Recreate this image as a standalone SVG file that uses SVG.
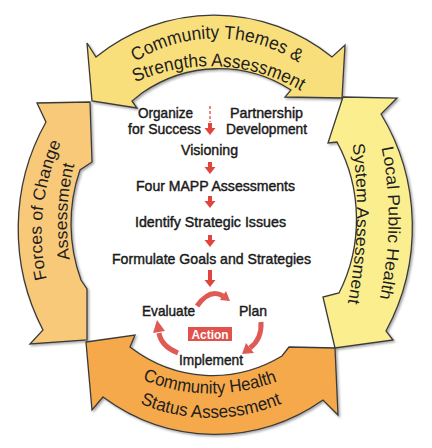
<svg xmlns="http://www.w3.org/2000/svg" width="432" height="448" viewBox="0 0 432 448">
<defs>
<filter id="sh" x="-15%" y="-15%" width="130%" height="130%">
<feDropShadow dx="1.5" dy="1.5" stdDeviation="1.2" flood-color="#000" flood-opacity="0.35"/>
</filter>
<path id="tp1" d="M 132,64 A 151 151 0 0 1 302,65"/>
<path id="tp2" d="M 130,85 A 180 180 0 0 1 306,94"/>
<path id="lp1" d="M 48,284 Q 30,212 63,138"/>
<path id="lp2" d="M 71,266 Q 61,212 76,158"/>
<path id="rp1" d="M 380,140 Q 398,222 378,306"/>
<path id="rp2" d="M 351,135 Q 365,222 346,312"/>
<path id="bp1" d="M 136,377 Q 208,409 284,379"/>
<path id="bp2" d="M 134,401 Q 210,435 288,401"/>
<path id="da" d="M -2,0 h4 v5 h3.5 l-5.5,7 l-5.5,-7 h3.5 z"/>
<path id="dal" d="M -2,0 h4 v10 h3.5 l-5.5,7 l-5.5,-7 h3.5 z"/>
</defs>
<style>
.band{stroke:#3a3a3a;stroke-width:1.3;stroke-linejoin:miter;filter:url(#sh)}
.bt{font-family:"Liberation Sans Narrow","Liberation Sans",Arial,sans-serif;fill:#1e1e1e}
.ct{font-family:"Liberation Sans",Arial,sans-serif;font-size:15px;fill:#1a1a1a;stroke:#1a1a1a;stroke-width:0.45}
.red{fill:#E0463E}
.cyc{fill:none;stroke:#E05A55;stroke-width:5}
.cyh{fill:#E05A55}
</style>
<rect width="432" height="448" fill="#fff"/>

<g id="community-themes">
<path class="band" fill="#F9DE7B" d="M 87,43 L 96,57 A 196 208 0 0 1 332,57 L 345,45 L 342,98 L 285,97 L 291,90 A 142 153 0 0 0 142,93 L 132,101 L 137,108 L 92,101 Z"/>
<text class="bt" font-size="18.5"><textPath href="#tp1" startOffset="50%" text-anchor="middle" textLength="172" lengthAdjust="spacingAndGlyphs">Community Themes &amp;</textPath></text>
<text class="bt" font-size="18.5"><textPath href="#tp2" startOffset="50%" text-anchor="middle" textLength="172" lengthAdjust="spacingAndGlyphs">Strengths Assessment</textPath></text>
</g>

<g id="forces-of-change">
<path class="band" fill="#F9C97A" d="M 37,103 L 90,102 L 92,162 L 80,170 A 142 153 0 0 0 81,280 L 87,289 L 87,340 L 30,344 L 43,330 A 196 208 0 0 1 46,122 Z"/>
<text class="bt" font-size="17"><textPath href="#lp1" startOffset="50%" text-anchor="middle" textLength="140" lengthAdjust="spacingAndGlyphs">Forces of Change</textPath></text>
<text class="bt" font-size="17"><textPath href="#lp2" startOffset="50%" text-anchor="middle" textLength="96" lengthAdjust="spacingAndGlyphs">Assessment</textPath></text>
</g>

<g id="local-public-health">
<path class="band" fill="#FBEE8F" d="M 343,97 L 397,98 L 381,114 A 196 208 0 0 1 386,331 L 393,340 L 335,348 L 323,297 L 339,293 A 142 153 0 0 0 337,142 L 328,143 Z"/>
<text class="bt" font-size="17"><textPath href="#rp1" startOffset="50%" text-anchor="middle" textLength="152" lengthAdjust="spacingAndGlyphs">Local Public Health</textPath></text>
<text class="bt" font-size="17"><textPath href="#rp2" startOffset="50%" text-anchor="middle" textLength="160" lengthAdjust="spacingAndGlyphs">System Assessment</textPath></text>
</g>

<g id="community-health">
<path class="band" fill="#F6A94B" d="M 86,342 L 135,335 L 130,347 A 142 153 0 0 0 282,356 L 289,347 L 335,348 L 338,415 L 323,400 A 196 208 0 0 1 103,397 L 92,410 Z"/>
<text class="bt" font-size="18"><textPath href="#bp1" startOffset="50%" text-anchor="middle" textLength="138" lengthAdjust="spacingAndGlyphs">Community Health</textPath></text>
<text class="bt" font-size="18"><textPath href="#bp2" startOffset="50%" text-anchor="middle" textLength="146" lengthAdjust="spacingAndGlyphs">Status Assessment</textPath></text>
</g>

<g id="organize"><text class="ct" x="138" y="118" textLength="55" lengthAdjust="spacingAndGlyphs">Organize</text>
<text class="ct" x="128" y="134" textLength="73" lengthAdjust="spacingAndGlyphs">for Success</text></g>
<g id="partnership"><text class="ct" x="230" y="118" textLength="73" lengthAdjust="spacingAndGlyphs">Partnership</text>
<text class="ct" x="226" y="134" textLength="81" lengthAdjust="spacingAndGlyphs">Development</text></g>
<g id="visioning"><text class="ct" x="181" y="155" textLength="57" lengthAdjust="spacingAndGlyphs">Visioning</text></g>
<g id="four-mapp"><text class="ct" x="136" y="191" textLength="159" lengthAdjust="spacingAndGlyphs">Four MAPP Assessments</text></g>
<g id="identify"><text class="ct" x="135" y="227" textLength="151" lengthAdjust="spacingAndGlyphs">Identify Strategic Issues</text></g>
<g id="formulate"><text class="ct" x="112" y="264" textLength="199" lengthAdjust="spacingAndGlyphs">Formulate Goals and Strategies</text></g>
<g id="evaluate"><text class="ct" x="142" y="316" textLength="53" lengthAdjust="spacingAndGlyphs">Evaluate</text></g>
<g id="plan"><text class="ct" x="239" y="316" textLength="28" lengthAdjust="spacingAndGlyphs">Plan</text></g>
<g id="implement"><text class="ct" x="179" y="365" textLength="64" lengthAdjust="spacingAndGlyphs">Implement</text></g>
<g id="action"><rect x="188" y="327" width="44" height="14" fill="#E0524C"/>
<text x="210" y="338.5" text-anchor="middle" font-family="Liberation Sans, Arial, sans-serif" font-weight="bold" font-size="12" fill="#fff" textLength="37" lengthAdjust="spacingAndGlyphs">Action</text></g>

<g id="connectors">
<line x1="210" y1="106" x2="210" y2="122" stroke="#E86060" stroke-width="1.5" stroke-dasharray="3 2"/>
<use href="#da" x="210" y="123" class="red"/>
<use href="#da" x="210" y="162" class="red"/>
<use href="#da" x="210" y="196" class="red"/>
<use href="#da" x="210" y="235" class="red"/>
<use href="#dal" x="210" y="270" class="red"/>
<path class="cyc" d="M 197,306 Q 210,288 223,296"/>
<polygon class="cyh" points="230,301 220,300 226,291"/>
<path class="cyc" d="M 178,353 Q 161,346 159,333"/>
<polygon class="cyh" points="157,320 153,333 165,331"/>
<path class="cyc" d="M 261,322 Q 262,339 250,348"/>
<polygon class="cyh" points="242,354 246,343 254,353"/>
</g>
</svg>
